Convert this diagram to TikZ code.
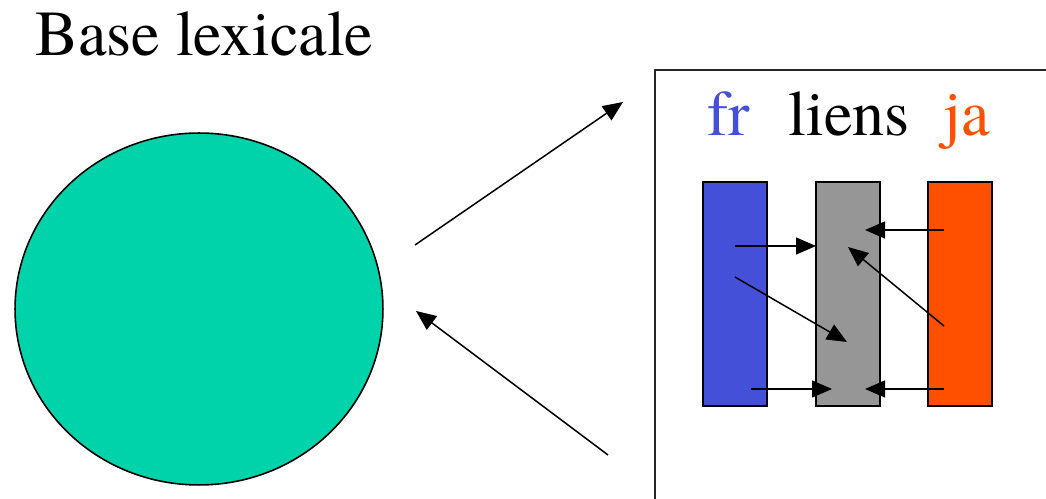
\documentclass[tikz,border=0pt]{standalone}
\usepackage{fontspec}
\setmainfont{TeX Gyre Termes}
\usepackage{xcolor}
\usetikzlibrary{arrows.meta,positioning,shapes.geometric}

\definecolor{lexteal}{HTML}{00D2AA}
\definecolor{frblue}{HTML}{4450D8}
\definecolor{jaorange}{HTML}{FF5000}
\definecolor{liengray}{HTML}{969696}

\begin{document}
\begin{tikzpicture}[
  x=0.02cm, y=-0.02cm,
  every node/.style={font=\fontsize{36.5}{40}\selectfont},
  lbl/.style={anchor=base west, inner sep=0pt},
  bar/.style={draw, line width=0.9pt, minimum width=1.28cm, minimum height=4.48cm, inner sep=0pt},
  arr/.style={-{Triangle[length=0.4cm,width=0.34cm]}, line width=0.85pt},
]
\useasboundingbox (0,0) rectangle (1046,499);
\clip (0,0) rectangle (1046,499);

%% ── Base lexicale ───────────────────────────────────────────────────────
\node[lbl] (title) at (35,56) {Base lexicale};
\node[ellipse, draw, fill=lexteal, line width=0.9pt,
      minimum width=7.36cm, minimum height=7.04cm, inner sep=0pt] (base) at (199,309) {};

%% ── Detail box ──────────────────────────────────────────────────────────
\draw[line width=1.1pt, black!85] (655,520) -- (655,70) -- (1060,70);

\node[lbl, text=frblue]   (fr)    at (707,136) {fr};
\node[lbl]                (liens) at (788,136) {liens};
\node[lbl, text=jaorange] (ja)    at (943,136) {ja};

\node[bar, fill=frblue]   (frbar) at (735,294) {};
\node[bar, fill=liengray] (libar) at (848,294) {};
\node[bar, fill=jaorange] (jabar) at (960,294) {};

%% ── Links between the lists ─────────────────────────────────────────────
\coordinate (f1) at (735,246); \coordinate (l1) at (816,246);
\coordinate (f2) at (735,277); \coordinate (l2) at (847,342);
\coordinate (f3) at (751,389); \coordinate (l3) at (832,389);
\coordinate (j1) at (944,230); \coordinate (m1) at (865,230);
\coordinate (j2) at (944,326); \coordinate (m2) at (848,247);
\coordinate (j3) at (944,389); \coordinate (m3) at (865,389);

\draw[arr] (f1) -- (l1);
\draw[arr] (f2) -- (l2);
\draw[arr] (f3) -- (l3);
\draw[arr] (j1) -- (m1);
\draw[arr] (j2) -- (m2);
\draw[arr] (j3) -- (m3);

%% ── Zoom arrows ─────────────────────────────────────────────────────────
\coordinate (out0) at (415,245); \coordinate (out1) at (623,102);
\coordinate (in0)  at (608,455); \coordinate (in1)  at (416,311);
\draw[arr] (out0) -- (out1);
\draw[arr] (in0) -- (in1);

\end{tikzpicture}
\end{document}
